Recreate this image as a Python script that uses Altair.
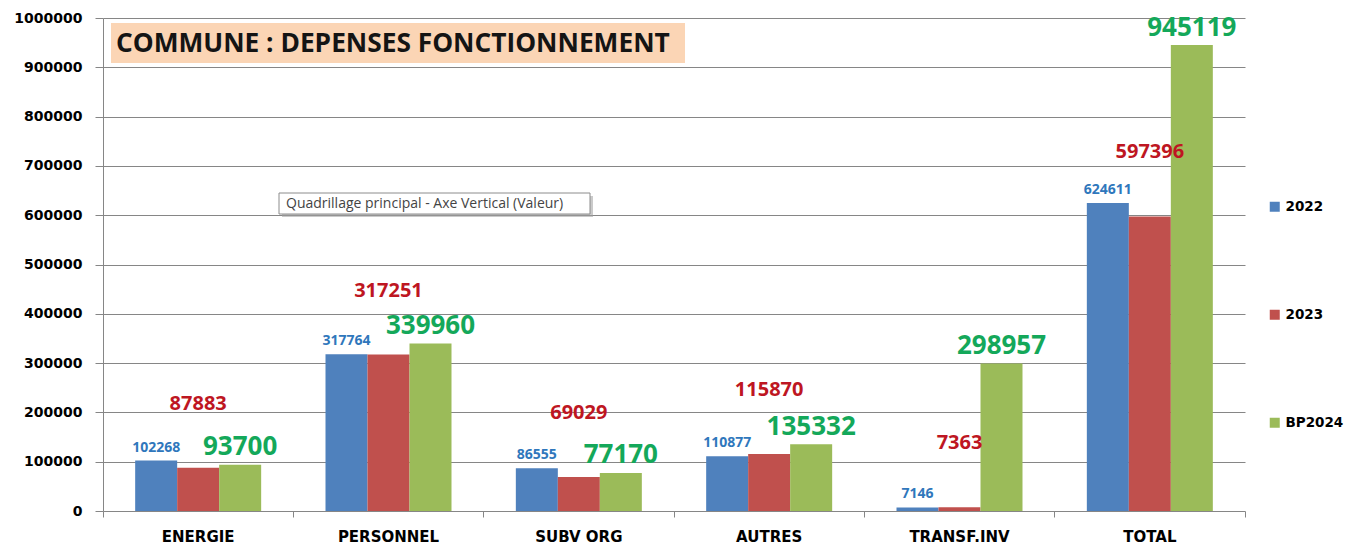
import altair as alt
import pandas as pd

# ---- data ----
categories = ["ENERGIE", "PERSONNEL", "SUBV ORG", "AUTRES", "TRANSF.INV", "TOTAL"]
series = ["2022", "2023", "BP2024"]
v2022 = [102268, 317764, 86555, 110877, 7146, 624611]
v2023 = [87883, 317251, 69029, 115870, 7363, 597396]
v2024 = [93700, 339960, 77170, 135332, 298957, 945119]
title_text = "COMMUNE : DEPENSES FONCTIONNEMENT"
tooltip_text = "Quadrillage principal - Axe Vertical (Valeur)"

rows = []
for s, vals in zip(series, [v2022, v2023, v2024]):
    for c, v in zip(categories, vals):
        rows.append({"cat": c, "serie": s, "value": v})
df = pd.DataFrame(rows)

bar_colors = ["#4F81BD", "#C0504D", "#9BBB59"]
label_colors = {"2022": "#2F77BC", "2023": "#BE1622", "BP2024": "#14A85A"}
label_sizes = {"2022": 14, "2023": 20, "BP2024": 26}
label_dy = {"2022": -13, "2023": -64, "BP2024": -17.5}

W, H = 1142, 493
GRID = "#868686"

x_scale = alt.Scale(domain=categories, paddingInner=0, paddingOuter=0)
off_scale = alt.Scale(domain=series, paddingInner=0, paddingOuter=0.766)
y_scale = alt.Scale(domain=[0, 1000000], nice=False)

base = alt.Chart(df)

bars = base.mark_bar(size=42).encode(
    x=alt.X("cat:N", scale=x_scale, sort=categories, title=None,
            axis=alt.Axis(orient="bottom", labelAngle=0, ticks=False, domain=False,
                          labelFont="DejaVu Sans", labelFontWeight="bold",
                          labelFontSize=15, labelColor="black", labelPadding=18)),
    xOffset=alt.XOffset("serie:N", scale=off_scale, sort=series),
    y=alt.Y("value:Q", scale=y_scale, title=None,
            axis=alt.Axis(tickCount=10, format="d", grid=True, gridColor=GRID,
                          gridWidth=1, domain=True, domainColor=GRID,
                          ticks=True, tickColor=GRID, tickSize=8,
                          labelFont="DejaVu Sans", labelFontWeight="bold",
                          labelFontSize=14, labelColor="black", labelPadding=13)),
    color=alt.Color("serie:N", sort=series,
                    scale=alt.Scale(domain=series, range=bar_colors),
                    legend=alt.Legend(orient="none", legendX=1165, legendY=182,
                                      title=None, symbolType="square",
                                      symbolSize=100, symbolStrokeWidth=0,
                                      labelFont="DejaVu Sans", labelFontWeight="bold",
                                      labelFontSize=13.5, labelColor="black",
                                      rowPadding=93, labelOffset=4, padding=0)),
)

label_layers = []
for i, s in enumerate(series):
    if i == 0:
        xaxis = alt.Axis(orient="bottom", labels=False, ticks=True, tickSize=6,
                         tickColor=GRID, domain=False, grid=False,
                         bandPosition=1, tickExtra=True)
    else:
        xaxis = None
    lay = base.transform_filter(alt.datum.serie == s).mark_text(
        font="Open Sans", fontWeight="bold", fontSize=label_sizes[s],
        color=label_colors[s], baseline="middle", align="center", dy=label_dy[s]
    ).encode(
        x=alt.X("cat:N", scale=x_scale, sort=categories, title=None, axis=xaxis),
        xOffset=alt.XOffset("serie:N", scale=off_scale, sort=series),
        y=alt.Y("value:Q", scale=y_scale),
        text=alt.Text("value:Q", format="d"),
    )
    label_layers.append(lay)

ann = alt.Chart(alt.InlineData(values=[{"t": title_text, "q": tooltip_text}]))

title_box = ann.mark_rect(color="#FBD5B5").encode(
    x=alt.value(8), x2=alt.value(582), y=alt.value(5), y2=alt.value(45))
title_lbl = ann.mark_text(font="Open Sans", fontWeight="bold", fontSize=26.3,
                          color="#141414", align="left", baseline="middle").encode(
    x=alt.value(13), y=alt.value(26), text="t:N")

tip_shadow = ann.mark_rect(color="#9E9E9E", opacity=0.55).encode(
    x=alt.value(179), x2=alt.value(490), y=alt.value(178), y2=alt.value(199))
tip_box = ann.mark_rect(fill="white", stroke="#8C8C8C", strokeWidth=1).encode(
    x=alt.value(176), x2=alt.value(487), y=alt.value(175), y2=alt.value(196))
tip_lbl = ann.mark_text(font="Open Sans", fontSize=14, color="#444444",
                        align="left", baseline="middle").encode(
    x=alt.value(183), y=alt.value(186), text="q:N")

chart = alt.layer(
    bars, *label_layers, title_box, title_lbl, tip_shadow, tip_box, tip_lbl
).resolve_axis(x="independent").properties(
    width=W, height=H,
    autosize=alt.AutoSizeParams(type="none"),
    padding={"left": 95, "top": 10, "right": 100, "bottom": 33},
    background="white",
).configure_view(stroke=None)

chart.save("out.html", embed_options={"renderer": "svg", "actions": False})
